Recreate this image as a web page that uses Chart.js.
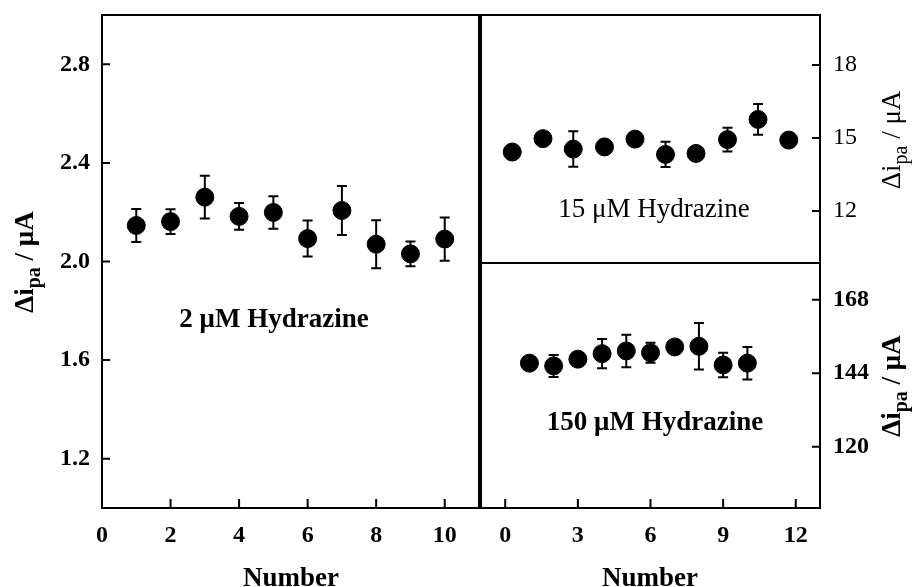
<!DOCTYPE html>
<html>
<head>
<meta charset="utf-8">
<script src="https://cdn.jsdelivr.net/npm/chart.js@4.4.1/dist/chart.umd.min.js"></script>
<style>
  body { margin: 0; background: #fff; }
  #wrap { position: relative; width: 912px; height: 587px; overflow: hidden; background: #fff; }
  canvas { position: absolute; }
</style>
</head>
<body>
<div id="wrap">
  <canvas id="c2" style="left:0;top:0" width="480" height="587"></canvas>
  <canvas id="c15" style="left:480px;top:0" width="432" height="265"></canvas>
  <canvas id="c150" style="left:480px;top:250px" width="432" height="337"></canvas>
</div>
<script>
// 2 uM panel (left)
const num2 = [1, 2, 3, 4, 5, 6, 7, 8, 9, 10];
const val2 = [2.146, 2.162, 2.261, 2.183, 2.199, 2.093, 2.207, 2.070, 2.031, 2.091];
const err2 = [0.067, 0.050, 0.087, 0.054, 0.066, 0.073, 0.099, 0.097, 0.050, 0.088];
const xTicks2 = [0, 2, 4, 6, 8, 10];
const yTicks2 = [1.2, 1.6, 2.0, 2.4, 2.8];

// 15 uM panel (top right)
const num15 = [0.29, 1.56, 2.81, 4.10, 5.36, 6.62, 7.88, 9.18, 10.44, 11.71];
const val15 = [14.42, 14.97, 14.54, 14.63, 14.95, 14.32, 14.36, 14.93, 15.76, 14.91];
const err15 = [0.2, 0.2, 0.73, 0.2, 0.2, 0.52, 0.2, 0.49, 0.63, 0.2];
const yTicks15 = [12, 15, 18];

// 150 uM panel (bottom right)
const num150 = [1, 2, 3, 4, 5, 6, 7, 8, 9, 10];
const val150 = [147.3, 146.4, 148.6, 150.4, 151.3, 150.7, 152.6, 152.8, 146.7, 147.3];
const err150 = [1.5, 3.6, 1.5, 4.8, 5.3, 3.3, 1.5, 7.6, 4.0, 5.3];
const xTicksR = [0, 3, 6, 9, 12];
const yTicks150 = [120, 144, 168];

const FONT = '"Liberation Serif", "Times New Roman", serif';

function drawYTitle(ctx, cx, cy, bold) {
  const w = bold ? 'bold ' : '';
  const parts = [
    ['\u0394i', w + '27px ' + FONT, 0],
    ['pa', w + '20px ' + FONT, 7],
    [' / \u03bcA', w + '27px ' + FONT, 0]
  ];
  ctx.save();
  ctx.translate(cx, cy);
  ctx.rotate(-Math.PI / 2);
  ctx.fillStyle = '#000';
  ctx.textBaseline = 'alphabetic';
  ctx.textAlign = 'left';
  let total = 0;
  parts.forEach(p => { ctx.font = p[1]; total += ctx.measureText(p[0]).width; });
  let x = -total / 2;
  parts.forEach(p => {
    ctx.font = p[1];
    ctx.fillText(p[0], x, p[2]);
    x += ctx.measureText(p[0]).width;
  });
  ctx.restore();
}

function drawText(ctx, txt, x, y, font) {
  ctx.save();
  ctx.font = font;
  ctx.fillStyle = '#000';
  ctx.textAlign = 'center';
  ctx.textBaseline = 'alphabetic';
  ctx.fillText(txt, x, y);
  ctx.restore();
}

function makePanel(id, p) {
  const pts = p.xs.map((x, i) => ({x: x, y: p.ys[i]}));
  const tickFont = {family: FONT, size: 24, weight: p.bold ? 'bold' : 'normal'};
  const hasX = p.xTicks.length > 0;
  return new Chart(document.getElementById(id), {
    type: 'scatter',
    data: {
      datasets: [{
        data: pts,
        backgroundColor: '#000',
        borderColor: '#000',
        pointRadius: 9,
        pointHoverRadius: 9,
        clip: false
      }]
    },
    options: {
      responsive: false,
      animation: false,
      devicePixelRatio: 1,
      layout: {padding: p.padding, autoPadding: false},
      plugins: {legend: {display: false}, tooltip: {enabled: false}},
      scales: {
        x: {
          type: 'linear', min: p.xMin, max: p.xMax,
          display: hasX,
          grid: {display: false, drawTicks: false},
          border: {display: false},
          ticks: {font: tickFont, color: '#000', padding: 13, maxRotation: 0},
          afterBuildTicks: s => { s.ticks = p.xTicks.map(v => ({value: v})); },
          afterFit: s => { s.height = hasX ? 79 : 0; s.paddingLeft = 0; s.paddingRight = 0; }
        },
        y: {
          type: 'linear', position: p.yPos, min: p.yMin, max: p.yMax,
          grid: {display: false, drawTicks: false},
          border: {display: false},
          ticks: {font: tickFont, color: '#000', padding: p.yPad,
                  callback: v => p.yFmt(v)},
          afterBuildTicks: s => { s.ticks = p.yTicks.map(v => ({value: v})); },
          afterFit: s => { s.width = p.yWidth; s.paddingTop = 0; s.paddingBottom = 0; }
        }
      }
    },
    plugins: [{
      id: 'deco',
      beforeDatasetsDraw(chart) {
        const ctx = chart.ctx, xs = chart.scales.x, ys = chart.scales.y;
        ctx.save();
        ctx.strokeStyle = '#000';
        ctx.lineWidth = 2;
        p.xs.forEach((x, i) => {
          const px = xs.getPixelForValue(x);
          const top = ys.getPixelForValue(p.ys[i] + p.errs[i]);
          const bot = ys.getPixelForValue(p.ys[i] - p.errs[i]);
          ctx.beginPath();
          ctx.moveTo(px, top); ctx.lineTo(px, bot);
          ctx.moveTo(px - 5, top); ctx.lineTo(px + 5, top);
          ctx.moveTo(px - 5, bot); ctx.lineTo(px + 5, bot);
          ctx.stroke();
        });
        ctx.restore();
      },
      afterDraw(chart) {
        const ctx = chart.ctx, a = chart.chartArea;
        const xs = chart.scales.x, ys = chart.scales.y;
        ctx.save();
        ctx.strokeStyle = '#000';
        ctx.lineWidth = 2;
        ctx.strokeRect(a.left, a.top, a.right - a.left, a.bottom - a.top);
        ctx.beginPath();
        p.xTicks.forEach(v => {
          const px = xs.getPixelForValue(v);
          ctx.moveTo(px, a.bottom); ctx.lineTo(px, a.bottom - 9);
        });
        p.yTicks.forEach(v => {
          const py = ys.getPixelForValue(v);
          if (p.yPos === 'left') { ctx.moveTo(a.left, py); ctx.lineTo(a.left + 8, py); }
          else { ctx.moveTo(a.right, py); ctx.lineTo(a.right - 8, py); }
        });
        ctx.stroke();
        ctx.restore();
        p.extra(ctx);
      }
    }]
  });
}

makePanel('c2', {
  xs: num2, ys: val2, errs: err2,
  xMin: 0, xMax: 11, yMin: 1.0, yMax: 3.0,
  xTicks: xTicks2, yTicks: yTicks2, yFmt: v => v.toFixed(1),
  yPos: 'left', yWidth: 102, yPad: 12, bold: true,
  padding: {left: 0, right: 1, top: 15, bottom: 0},
  extra: ctx => {
    drawYTitle(ctx, 33, 262, true);
    drawText(ctx, '2 \u03bcM Hydrazine', 274, 327, 'bold 27px ' + FONT);
    drawText(ctx, 'Number', 291, 586, 'bold 27px ' + FONT);
  }
});

makePanel('c15', {
  xs: num15, ys: val15, errs: err15,
  xMin: -1, xMax: 13, yMin: 9.86, yMax: 20.05,
  xTicks: [], yTicks: yTicks15, yFmt: v => String(v),
  yPos: 'right', yWidth: 92, yPad: 13, bold: false,
  padding: {left: 1, right: 0, top: 15, bottom: 2},
  extra: ctx => {
    drawYTitle(ctx, 420, 140, false);
    drawText(ctx, '15 \u03bcM Hydrazine', 174, 217, '27px ' + FONT);
  }
});

makePanel('c150', {
  xs: num150, ys: val150, errs: err150,
  xMin: -1, xMax: 13, yMin: 100, yMax: 180,
  xTicks: xTicksR, yTicks: yTicks150, yFmt: v => String(v),
  yPos: 'right', yWidth: 92, yPad: 13, bold: true,
  padding: {left: 1, right: 0, top: 13, bottom: 0},
  extra: ctx => {
    drawYTitle(ctx, 420, 136, true);
    drawText(ctx, '150 \u03bcM Hydrazine', 175, 180, 'bold 27px ' + FONT);
    drawText(ctx, 'Number', 170, 336, 'bold 27px ' + FONT);
  }
});
</script>
</body>
</html>
